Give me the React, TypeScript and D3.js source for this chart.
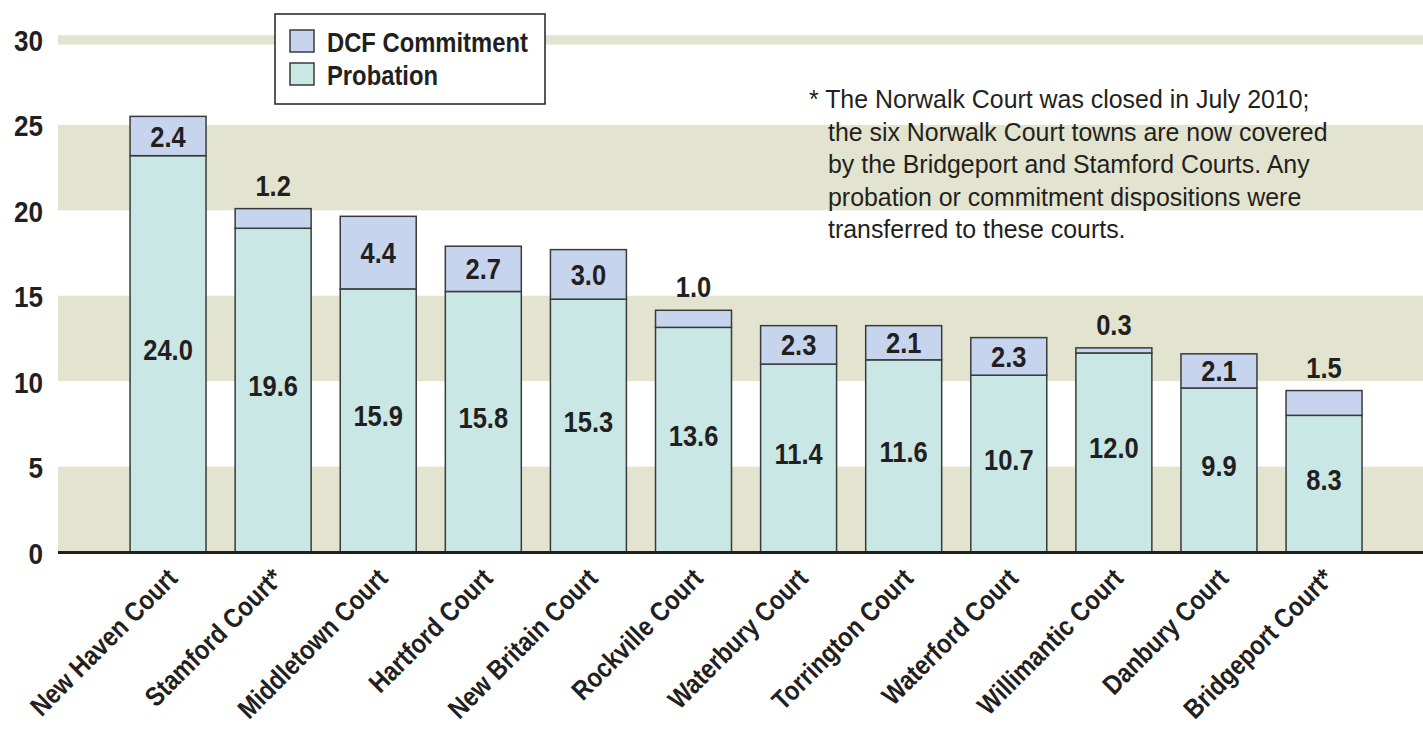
import React from "react";
import * as d3 from "d3";

const courts = [
  "New Haven Court",
  "Stamford Court*",
  "Middletown Court",
  "Hartford Court",
  "New Britain Court",
  "Rockville Court",
  "Waterbury Court",
  "Torrington Court",
  "Waterford Court",
  "Willimantic Court",
  "Danbury Court",
  "Bridgeport Court*",
];

// bar heights as drawn in the picture
const probation = [23.2, 18.95, 15.4, 15.25, 14.8, 13.15, 11.0, 11.25, 10.35, 11.65, 9.6, 8.0];
const commitment = [2.3, 1.15, 4.25, 2.65, 2.9, 1.0, 2.25, 2.0, 2.2, 0.3, 2.0, 1.45];

// printed labels
const probationLabels = ["24.0", "19.6", "15.9", "15.8", "15.3", "13.6", "11.4", "11.6", "10.7", "12.0", "9.9", "8.3"];
const commitmentLabels = ["2.4", "1.2", "4.4", "2.7", "3.0", "1.0", "2.3", "2.1", "2.3", "0.3", "2.1", "1.5"];

const yTicks = [0, 5, 10, 15, 20, 25, 30];
const shadedBands: [number, number][] = [[0, 5], [10, 15], [20, 25], [29.7, 30.25]];

const footnote = [
  "* The Norwalk Court was closed in July 2010;",
  "the six Norwalk Court towns are now covered",
  "by the Bridgeport and Stamford Courts. Any",
  "probation or commitment dispositions were",
  "transferred to these courts.",
];

const W = 1423;
const H = 731;
const FONT = "'Liberation Sans', Arial, sans-serif";
const INK = "#231f20";
const BAND = "#e3e4cf";
const COMMIT = "#c6d4ed";
const PROB = "#c9e7e4";
const EDGE = "#3a3a3a";

// condensed-looking text: scale glyphs horizontally
function CText({ x, y, size, sx = 0.85, anchor = "middle", rotate = 0, bold = true, children }: any) {
  return (
    <text
      transform={`translate(${x},${y}) rotate(${rotate}) scale(${sx},1)`}
      textAnchor={anchor}
      fontSize={size}
      fontWeight={bold ? "bold" : "normal"}
      fill={INK}
    >
      {children}
    </text>
  );
}

export default function App() {
  const y = d3.scaleLinear().domain([0, 30]).range([552, 39.5]);
  const x = d3
    .scaleBand()
    .domain(courts)
    .range([115.5, 1376.6])
    .paddingInner(0.277)
    .paddingOuter(0.1385);
  const plotLeft = 58;

  return (
    <svg
      width={W}
      height={H}
      style={{ position: "absolute", left: 0, top: 0, background: "#fff" }}
      fontFamily={FONT}
    >
      {/* background bands */}
      {shadedBands.map(([a, b], i) => (
        <rect key={i} x={plotLeft} y={y(b)} width={W - plotLeft} height={y(a) - y(b)} fill={BAND} />
      ))}

      {/* y tick labels */}
      {yTicks.map((t) => (
        <CText key={t} x={43} y={y(t) + 11.5} size={30} sx={0.87} anchor="end">
          {t}
        </CText>
      ))}

      {/* bars */}
      {courts.map((c, i) => {
        const x0 = x(c)!;
        const bw = x.bandwidth();
        const cx = x0 + bw / 2;
        const pTop = y(probation[i]);
        const tTop = y(probation[i] + commitment[i]);
        const segH = pTop - tTop;
        const inside = segH >= 30;
        return (
          <g key={c}>
            <rect x={x0} y={pTop} width={bw} height={y(0) - pTop} fill={PROB} stroke={EDGE} strokeWidth={1.5} />
            <rect x={x0} y={tTop} width={bw} height={segH} fill={COMMIT} stroke={EDGE} strokeWidth={1.5} />
            <CText x={cx} y={(pTop + y(0)) / 2 + 6} size={30}>
              {probationLabels[i]}
            </CText>
            <CText x={cx} y={inside ? (tTop + pTop) / 2 + 10.5 : tTop - 13} size={30}>
              {commitmentLabels[i]}
            </CText>
            <CText x={cx + 11} y={580} size={27} sx={0.87} anchor="end" rotate={-45}>
              {c}
            </CText>
          </g>
        );
      })}

      {/* baseline */}
      <line x1={plotLeft} x2={W} y1={y(0) + 0.5} y2={y(0) + 0.5} stroke={INK} strokeWidth={3} />

      {/* legend */}
      <g>
        <rect x={275} y={14} width={270} height={90} fill="#fff" stroke={INK} strokeWidth={1.5} />
        <rect x={290} y={30} width={24} height={22} fill={COMMIT} stroke={EDGE} strokeWidth={1.5} />
        <rect x={290} y={63} width={24} height={22} fill={PROB} stroke={EDGE} strokeWidth={1.5} />
        <CText x={327} y={52} size={28} anchor="start">DCF Commitment</CText>
        <CText x={327} y={85} size={28} anchor="start">Probation</CText>
      </g>

      {/* footnote */}
      {footnote.map((line, i) => (
        <CText key={i} x={i === 0 ? 809 : 828} y={108 + i * 32.5} size={26.5} sx={0.94} anchor="start" bold={false}>
          {line}
        </CText>
      ))}
    </svg>
  );
}
